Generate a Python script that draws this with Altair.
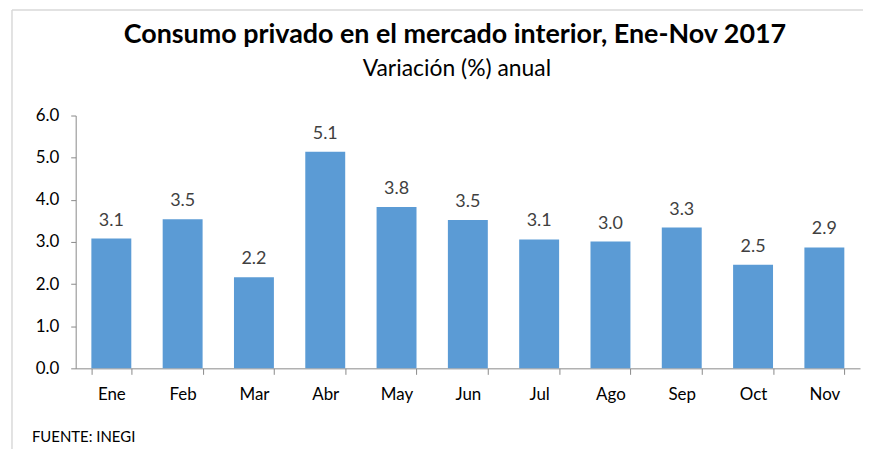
import altair as alt
import pandas as pd

months = ["Ene", "Feb", "Mar", "Abr", "May", "Jun", "Jul", "Ago", "Sep", "Oct", "Nov"]
values = [3.08, 3.54, 2.16, 5.14, 3.83, 3.52, 3.06, 3.01, 3.34, 2.46, 2.87]
y_ticks = [0, 1, 2, 3, 4, 5, 6]
title_text = "Consumo privado en el mercado interior, Ene-Nov 2017"
subtitle_text = "Variación (%) anual"
source_text = "FUENTE: INEGI"

FONT = "Lato"
BAR = "#5B9BD5"
AXIS = "#898989"

df = pd.DataFrame({"mes": months, "valor": values})
titles = pd.DataFrame({"t": [title_text]})
subs = pd.DataFrame({"t": [subtitle_text]})
src = pd.DataFrame({"t": [source_text]})

x = alt.X(
    "mes:N", sort=months, title=None,
    scale=alt.Scale(paddingInner=0.44, paddingOuter=0.22),
    axis=alt.Axis(labelAngle=0, tickBand="extent", tickSize=6, labelPadding=12,
                  labelFontSize=17, labelFont=FONT, labelColor="#000000",
                  domainColor=AXIS, tickColor=AXIS, grid=False),
)
y = alt.Y(
    "valor:Q", title=None,
    scale=alt.Scale(domain=[0, 6], nice=False),
    axis=alt.Axis(values=y_ticks, format=".1f", grid=False, tickSize=5, labelPadding=12,
                  labelFontSize=17, labelFont=FONT, labelColor="#000000",
                  domainColor=AXIS, tickColor=AXIS),
)

bars = alt.Chart(df).mark_bar(color=BAR).encode(x=x, y=y)
labels = alt.Chart(df).mark_text(
    baseline="bottom", dy=-9, fontSize=18, font=FONT, color="#404040"
).encode(x=alt.X("mes:N", sort=months), y="valor:Q", text=alt.Text("valor:Q", format=".1f"))

title = alt.Chart(titles).mark_text(
    align="center", baseline="alphabetic", fontSize=27, fontWeight="bold", font=FONT, color="#000000"
).encode(x=alt.value(381), y=alt.value(-73), text="t:N")
subtitle = alt.Chart(subs).mark_text(
    align="center", baseline="alphabetic", fontSize=23, font=FONT, color="#000000"
).encode(x=alt.value(383), y=alt.value(-40), text="t:N")

footer = alt.Chart(src).mark_text(
    align="left", baseline="alphabetic", fontSize=15, font=FONT, color="#000000"
).encode(x=alt.value(-44), y=alt.value(328), text="t:N")

frame_left = alt.Chart(src).mark_rule(color="#d9d9d9", strokeWidth=1.5).encode(
    x=alt.value(-64), y=alt.value(-106), y2=alt.value(340))
frame_top = alt.Chart(src).mark_rule(color="#d9d9d9", strokeWidth=1.5).encode(
    x=alt.value(-64), x2=alt.value(795), y=alt.value(-106))

chart = alt.layer(frame_left, frame_top, title, subtitle, bars, labels, footer).properties(
    width=788, height=254,
    padding={"left": 68, "top": 107, "right": 3, "bottom": 80},
    autosize=alt.AutoSizeParams(type="none"),
    background="white",
).configure_view(stroke="white", fill="white")

chart.save("out.html", embed_options={"renderer": "svg", "actions": False})
